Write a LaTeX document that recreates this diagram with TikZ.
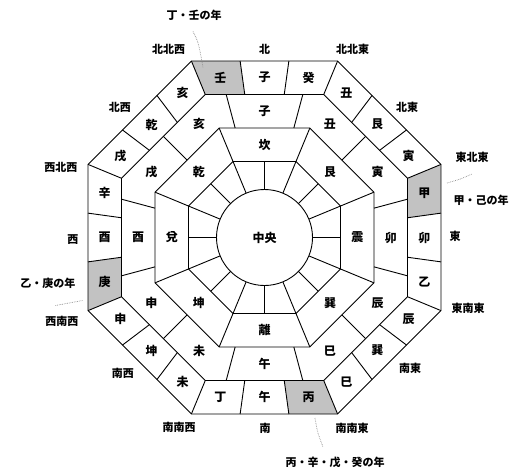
\documentclass[tikz,border=0pt]{standalone}
\usepackage{fontspec}
\newfontfamily\jp{Noto Sans CJK JP}
\begin{document}
\begin{tikzpicture}[x=1pt,y=1pt,
  ln/.style={line width=0.9pt, line join=round},
  cell/.style={font=\jp\bfseries\fontsize{12}{12}\selectfont, inner sep=0pt},
  dir/.style={font=\jp\bfseries\fontsize{11}{11}\selectfont, inner sep=0pt},
  shadecell/.style={fill=black!24},
  leader/.style={densely dotted, line width=0.7pt, black!45}]
\useasboundingbox (-264.5,-234.5) rectangle (253.5,237.5);
% shaded cells of the outer ring
\foreach \t in {7.861,97.861,187.861,277.861}{
  \fill[shadecell] (\t:178.17) -- ({\t+14.639}:191.04) -- ({\t+14.639}:154.78) -- (\t:144.36) -- cycle;}
% octagons
\foreach \r in {82.26,118.52,154.78,191.04}{
  \draw[ln] (22.5:\r) -- (67.5:\r) -- (112.5:\r) -- (157.5:\r) -- (202.5:\r) -- (247.5:\r) -- (292.5:\r) -- (337.5:\r) -- cycle;}
% centre
\node[circle, draw, line width=0.9pt, minimum size=96pt, inner sep=0pt, font=\jp\bfseries\fontsize{12}{12}\selectfont] (center) at (0,0) {中央};
% ring 1: 16 divisions
\foreach \t in {0,45,90,135,180,225,270,315}{\draw[ln] (\t:48) -- (\t:76);}
\foreach \t in {22.5,67.5,112.5,157.5,202.5,247.5,292.5,337.5}{\draw[ln] (\t:48) -- (\t:82.26);}
% ring 2: corner lines
\foreach \t in {22.5,67.5,112.5,157.5,202.5,247.5,292.5,337.5}{\draw[ln] (\t:82.26) -- (\t:118.52);}
% ring 3: 12 divisions
\foreach \t in {45,135,225,315}{\draw[ln] (\t:109.5) -- (\t:143);}
\foreach \t in {15,75,105,165,195,255,285,345}{\draw[ln] (\t:113.36) -- (\t:148.04);}
% ring 4: 24 divisions
\foreach \t in {22.5,67.5,112.5,157.5,202.5,247.5,292.5,337.5}{\draw[ln] (\t:154.78) -- (\t:191.04);}
\foreach \p in {0,45,90,135,180,225,270,315}{
  \draw[ln] ({\p+7.861}:144.36) -- ({\p+7.861}:178.17);
  \draw[ln] ({\p-7.861}:144.36) -- ({\p-7.861}:178.17);}
% ring 2 labels (trigrams)
\foreach \t/\s [count=\i] in {0/震,45/艮,90/坎,135/乾,180/兌,225/坤,270/離,315/巽}
  \node[cell] (tri\i) at (\t:92.75) {\s};
% ring 3 labels (branches)
\foreach \t/\s/\r [count=\i] in {0/卯/126.25,30/寅/130.7,60/丑/130.7,90/子/126.25,120/亥/130.7,150/戌/130.7,180/酉/126.25,210/申/130.7,240/未/130.7,270/午/126.25,300/巳/130.7,330/辰/130.7}
  \node[cell] (br\i) at (\t:\r) {\s};
% ring 4 labels (24 mountains)
\foreach \t/\s/\r [count=\i] in {-15.44/乙/165.8,0/卯/159.75,15.44/甲/165.8,
  29.56/寅/165.8,45/艮/159.75,60.44/丑/165.8,
  74.56/癸/165.8,90/子/159.75,105.44/壬/165.8,
  119.56/亥/165.8,135/乾/159.75,150.44/戌/165.8,
  164.56/辛/165.8,180/酉/159.75,195.44/庚/165.8,
  209.56/申/165.8,225/坤/159.75,240.44/未/165.8,
  254.56/丁/165.8,270/午/159.75,285.44/丙/165.8,
  299.56/巳/165.8,315/巽/159.75,330.44/辰/165.8}
  \node[cell] (mt\i) at (\t:\r) {\s};
% direction labels
\node[dir] (nnw) at (-96,188) {北北西};
\node[dir] (n) at (0,188) {北};
\node[dir] (nne) at (88,188) {北北東};
\node[dir] (ne) at (142.5,130.5) {北東};
\node[dir] (ene) at (207.5,80.5) {東北東};
\node[dir] (e) at (190.5,1.5) {東};
\node[dir] (ese) at (203.5,-70.5) {東南東};
\node[dir] (se) at (145.5,-130.5) {南東};
\node[dir] (sse) at (87.5,-190.5) {南南東};
\node[dir] (s) at (0.5,-190.5) {南};
\node[dir] (ssw) at (-85.5,-189.5) {南南西};
\node[dir] (sw) at (-141.5,-135.5) {南西};
\node[dir] (wsw) at (-202.5,-83.5) {西南西};
\node[dir] (w) at (-191.5,-2.5) {西};
\node[dir] (wnw) at (-203.5,70.5) {西北西};
\node[dir] (nw) at (-144.5,130.5) {北西};
% year labels
\node[dir] (yr1) at (-70.5,222.5) {丁・壬の年};
\node[dir] (yr2) at (216.5,37.5) {甲・己の年};
\node[dir] (yr3) at (70.5,-224.5) {丙・辛・戊・癸の年};
\node[dir] (yr4) at (-216.5,-45.5) {乙・庚の年};
% leaders
\coordinate (l1a) at (-71.5,206);
\coordinate (l1b) at (-61.5,170);
\coordinate (l2a) at (182.5,54.5);
\coordinate (l2b) at (207.5,63.5);
\coordinate (l3a) at (50.5,-180.5);
\coordinate (l3b) at (58.5,-209.5);
\coordinate (l4a) at (-209,-68);
\coordinate (l4b) at (-182,-63);
\draw[leader] (l1a) .. controls (-66,195) .. (l1b);
\draw[leader] (l2a) .. controls (195,58) .. (l2b);
\draw[leader] (l3a) .. controls (53,-195) .. (l3b);
\draw[leader] (l4a) .. controls (-195,-66) .. (l4b);
\end{tikzpicture}
\end{document}
